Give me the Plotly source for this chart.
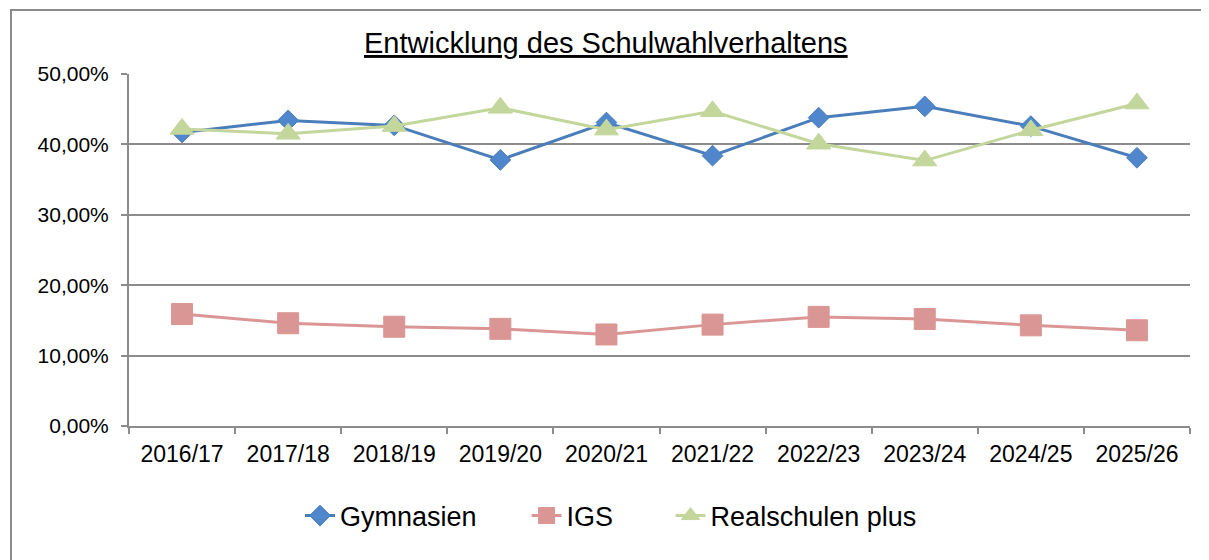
import plotly.graph_objects as go

categories = ["2016/17", "2017/18", "2018/19", "2019/20", "2020/21",
              "2021/22", "2022/23", "2023/24", "2024/25", "2025/26"]
gymnasien = [0.417, 0.434, 0.427, 0.378, 0.431, 0.384, 0.438, 0.454, 0.426, 0.381]
igs = [0.159, 0.146, 0.141, 0.138, 0.130, 0.144, 0.155, 0.152, 0.143, 0.136]
realschulen = [0.422, 0.415, 0.426, 0.452, 0.421, 0.447, 0.401, 0.377, 0.420, 0.458]
y_ticks = [0, 0.1, 0.2, 0.3, 0.4, 0.5]
series_names = ["Gymnasien", "IGS", "Realschulen plus"]

title_text = "Entwicklung des Schulwahlverhaltens"
FONT = "Liberation Sans, Arial, sans-serif"
GRID = "#8c8c8c"
PAD = "\u00a0" * 6

fig = go.Figure()
fig.add_trace(go.Scatter(
    x=categories, y=gymnasien, name=series_names[0] + PAD, mode="lines+markers",
    line=dict(color="#4A7EBB", width=3),
    marker=dict(symbol="diamond", size=16, color="#4F86CC",
                line=dict(color="#4A7EBB", width=1)),
))
fig.add_trace(go.Scatter(
    x=categories, y=igs, name=series_names[1] + PAD + "\u00a0", mode="lines+markers",
    line=dict(color="#DA9694", width=3),
    marker=dict(symbol="square", size=21, color="#DA9694",
                line=dict(color="#DA9694", width=1)),
))
fig.add_trace(go.Scatter(
    x=categories, y=realschulen, name=series_names[2], mode="lines+markers",
    line=dict(color="#C3D69B", width=3),
    marker=dict(symbol="triangle-up", size=21, color="#C3D69B",
                line=dict(color="#C3D69B", width=1)),
))

# page body has an 8px margin; page coordinates are converted to figure coordinates
OFF = 8
L, R, T, B = 129 - OFF, 1190 - OFF, 74 - OFF, 426 - OFF
W, H = 1209 - OFF, 560 - OFF
pw, ph = R - L, B - T

def px(x):
    return (x - OFF - L) / pw

def py(y):
    return (B - (y - OFF)) / ph

fig.update_layout(
    width=W, height=H,
    margin=dict(l=L, r=W - R, t=T, b=H - B, pad=0),
    paper_bgcolor="white", plot_bgcolor="white",
    separators=",.",
    font=dict(family=FONT, size=21, color="black"),
    showlegend=True,
    legend=dict(orientation="h", x=px(300), xanchor="left",
                y=py(516), yanchor="middle",
                font=dict(family=FONT, size=27, color="black"),
                itemwidth=30, tracegroupgap=0,
                bgcolor="rgba(0,0,0,0)"),
    xaxis=dict(
        type="category", range=[-0.5, 9.5],
        showgrid=False, showline=True, linecolor=GRID, linewidth=2,
        ticks="outside", tickson="boundaries", ticklen=6, tickcolor=GRID, tickwidth=2,
        tickfont=dict(family=FONT, size=23, color="black"),
        ticklabelstandoff=6,
        fixedrange=True, zeroline=False,
    ),
    yaxis=dict(
        range=[0, 0.5], tickvals=y_ticks, tickformat=".2%",
        showgrid=True, gridcolor=GRID, gridwidth=2,
        showline=True, linecolor=GRID, linewidth=2,
        ticks="outside", ticklen=6, tickcolor=GRID, tickwidth=2,
        tickfont=dict(family=FONT, size=21, color="black"),
        ticklabelstandoff=8,
        zeroline=False, fixedrange=True,
    ),
    shapes=[dict(type="rect", xref="paper", yref="paper",
                 x0=px(11), x1=px(1230), y0=py(10), y1=py(600),
                 line=dict(color="#8a8a8a", width=2), fillcolor="rgba(0,0,0,0)",
                 layer="below")],
    annotations=[dict(text="<u>" + title_text + "</u>", xref="paper", yref="paper",
                      x=px(606), y=py(43), xanchor="center", yanchor="middle",
                      showarrow=False,
                      font=dict(family=FONT, size=29, color="black"))],
)

fig.write_html("out.html")
